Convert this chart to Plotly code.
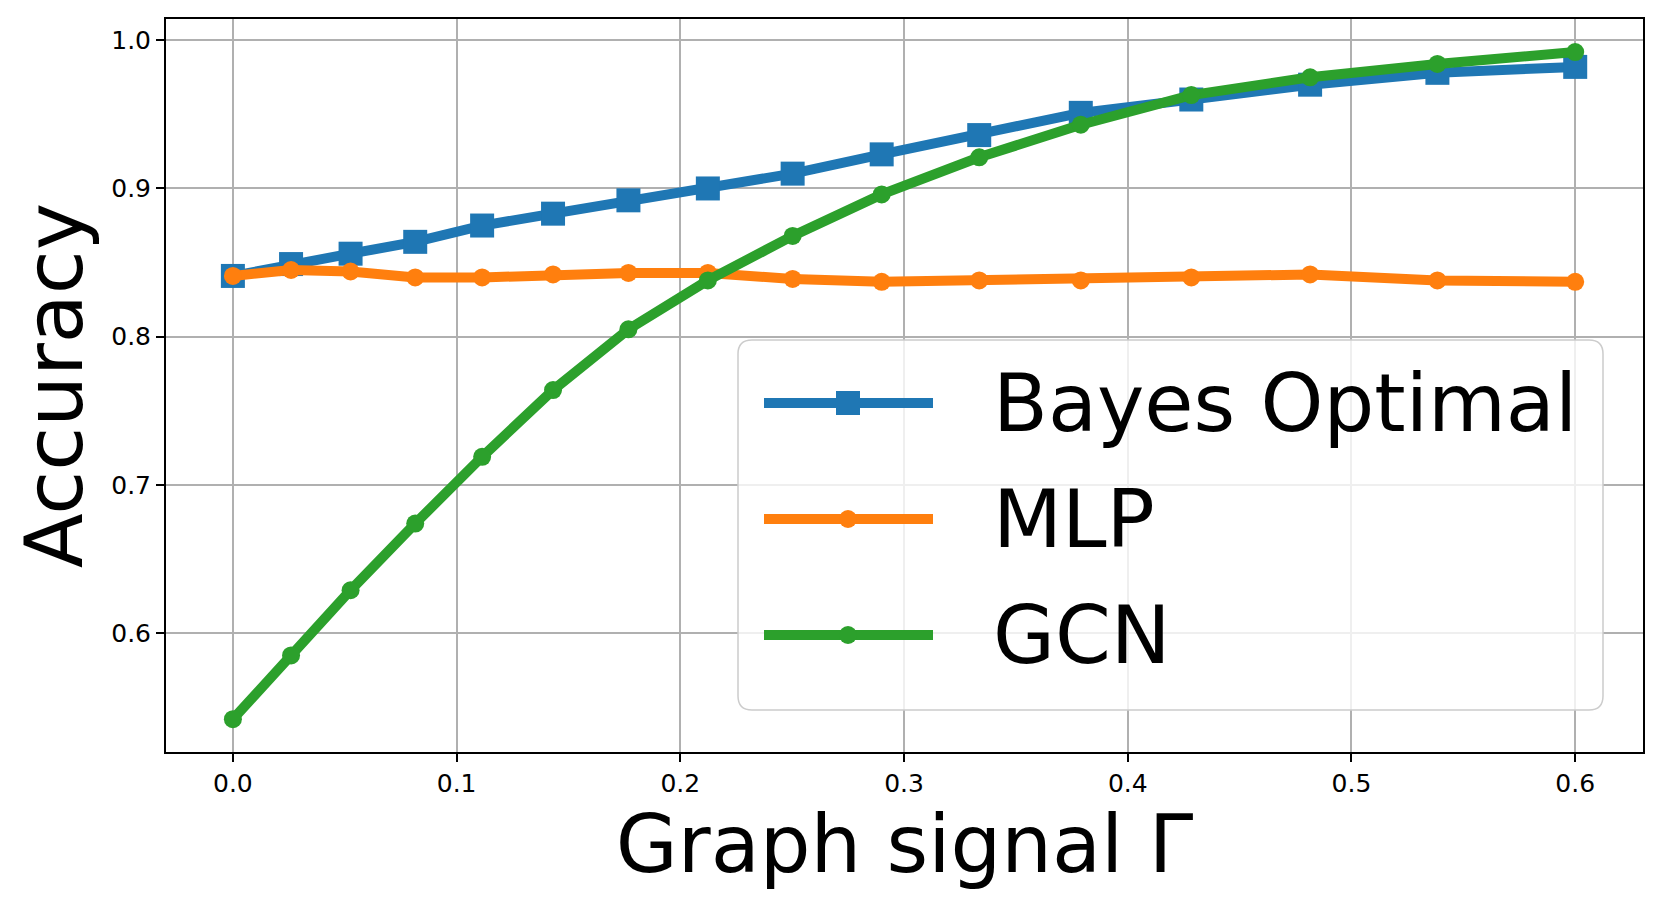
import plotly.graph_objects as go

# graph signal values (x) and accuracies
gamma = [0.0, 0.026, 0.0526, 0.0815, 0.1114, 0.1431, 0.1768, 0.2123,
         0.2502, 0.29, 0.3336, 0.379, 0.4284, 0.4815, 0.5384, 0.6]

acc_bayes = [0.841, 0.849, 0.856, 0.864, 0.875, 0.883, 0.892, 0.900,
             0.910, 0.923, 0.936, 0.951, 0.960, 0.970, 0.978, 0.982]
acc_mlp = [0.841, 0.845, 0.844, 0.840, 0.840, 0.842, 0.843, 0.843,
           0.839, 0.837, 0.838, 0.838, 0.840, 0.842, 0.838, 0.837]
acc_gcn = [0.542, 0.585, 0.629, 0.674, 0.719, 0.764, 0.805, 0.838,
           0.868, 0.896, 0.921, 0.943, 0.963, 0.975, 0.984, 0.992]

names = ["Bayes Optimal", "MLP", "GCN"]
colors = ["#1f77b4", "#ff7f0e", "#2ca02c"]
symbols = ["square", "circle", "circle"]
msizes = [24, 18, 18]

x_ticks = [0.0, 0.1, 0.2, 0.3, 0.4, 0.5, 0.6]
y_ticks = [0.6, 0.7, 0.8, 0.9, 1.0]

FONT = "DejaVu Sans"

fig = go.Figure()

for name, ys, c, sym, ms in zip(names, [acc_bayes, acc_mlp, acc_gcn], colors, symbols, msizes):
    fig.add_trace(go.Scatter(
        x=gamma, y=ys, name=name,
        mode="lines+markers",
        line=dict(color=c, width=10),
        marker=dict(symbol=sym, size=ms, color=c, line=dict(width=0)),
        showlegend=False,
    ))

axis_common = dict(
    showline=True, linecolor="black", linewidth=2, mirror=True,
    ticks="outside", ticklen=8, tickwidth=2, tickcolor="black",
    showgrid=True, gridcolor="#b0b0b0", gridwidth=1.6,
    zeroline=False,
    tickfont=dict(family=FONT, size=25, color="black"),
)

fig.update_xaxes(
    range=[-0.0299, 0.6303],
    tickvals=x_ticks, ticktext=[f"{v:.1f}" for v in x_ticks],
    title=dict(text="Graph signal Γ", font=dict(family=FONT, size=80, color="black"), standoff=0),
    **axis_common,
)
fig.update_yaxes(
    range=[0.5199, 1.0143],
    tickvals=y_ticks, ticktext=[f"{v:.1f}" for v in y_ticks],
    title=dict(text="Accuracy", font=dict(family=FONT, size=80, color="black"), standoff=2),
    **axis_common,
)

# legend drawn by hand to get matplotlib-style long line samples
def px_x(p):
    return (p - 166) / 1477

def px_y(p):
    return (752 - p) / 733

bx0, bx1, by0, by1 = px_x(738), px_x(1603), px_y(710), px_y(340)
rx, ry = 14 / 1477, 14 / 733
box_path = (f"M {bx0+rx},{by0} L {bx1-rx},{by0} Q {bx1},{by0} {bx1},{by0+ry} "
            f"L {bx1},{by1-ry} Q {bx1},{by1} {bx1-rx},{by1} L {bx0+rx},{by1} "
            f"Q {bx0},{by1} {bx0},{by1-ry} L {bx0},{by0+ry} Q {bx0},{by0} {bx0+rx},{by0} Z")
fig.add_shape(type="path", path=box_path, xref="paper", yref="paper",
              fillcolor="rgba(255,255,255,0.8)", line=dict(color="#cccccc", width=1.5))

lx0, lx1, lmx, tx = px_x(764), px_x(933), px_x(848), px_x(991)
for i, (name, c, sym, ms) in enumerate(zip(names, colors, symbols, msizes)):
    ly = px_y(403 + 116 * i)
    fig.add_shape(type="line", xref="paper", yref="paper",
                  x0=lx0, x1=lx1, y0=ly, y1=ly, line=dict(color=c, width=10))
    h = ms / 2
    fig.add_shape(type="rect" if sym == "square" else "circle",
                  xref="paper", yref="paper", xsizemode="pixel", ysizemode="pixel",
                  xanchor=lmx, yanchor=ly, x0=-h, x1=h, y0=-h, y1=h,
                  fillcolor=c, line=dict(width=0))
    fig.add_annotation(x=tx, y=ly, xref="paper", yref="paper", text=name,
                       showarrow=False, xanchor="left", yanchor="middle",
                       font=dict(family=FONT, size=80, color="black"))

fig.update_layout(
    width=1662, height=905,
    margin=dict(l=166, r=19, t=19, b=153),
    paper_bgcolor="white", plot_bgcolor="white",
    font=dict(family=FONT, color="black"),
)

fig.write_html("out.html", config={"displayModeBar": False},
               post_script="document.body.style.margin='0';")
